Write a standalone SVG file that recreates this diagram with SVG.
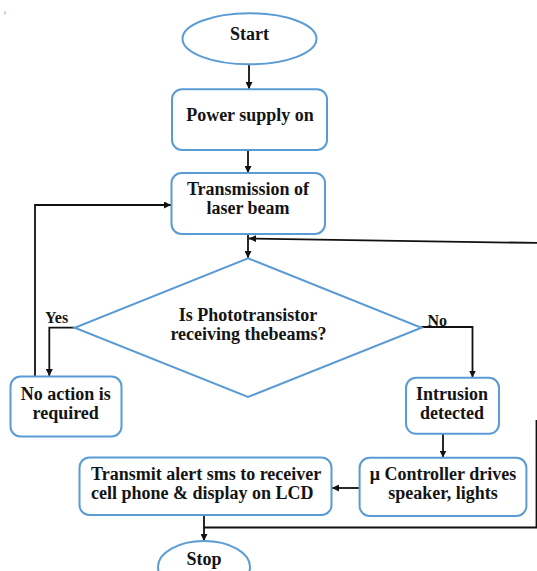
<svg xmlns="http://www.w3.org/2000/svg" width="537" height="571" viewBox="0 0 537 571">
<style>
  .box { fill: #ffffff; stroke: #5b9bd5; stroke-width: 2; }
  .t { font-family: "Liberation Serif", "Times New Roman", serif; font-weight: bold; font-size: 18px; fill: #141414; text-anchor: middle; }
  .lbl { font-family: "Liberation Serif", "Times New Roman", serif; font-weight: bold; font-size: 16px; fill: #141414; }
  .c { fill: none; stroke: #111111; stroke-width: 1.8; }
</style>
<defs>
  <marker id="ah" markerUnits="userSpaceOnUse" markerWidth="8" markerHeight="7" refX="7" refY="3.5" orient="auto">
    <path d="M0,0 L7,3.5 L0,7 z" fill="#111111"/>
  </marker>
</defs>
<rect width="537" height="571" fill="#ffffff"/>
<line x1="5" y1="11.5" x2="5" y2="14.5" stroke="#8aa0b8" stroke-width="1"/>

<g id="connectors">
  <path class="c" d="M249,64.5 V89" marker-end="url(#ah)"/>
  <path class="c" d="M248,150 V173" marker-end="url(#ah)"/>
  <path class="c" d="M248,234 V258" marker-end="url(#ah)"/>
  <path class="c" d="M204,527.5 H539 V243 L249,238.5" marker-end="url(#ah)"/>
  <path class="c" d="M536.5,420 V527.5" stroke-width="1.2"/>
  <path class="c" d="M75,327.7 H49.3 V376" marker-end="url(#ah)"/>
  <path class="c" d="M421.5,327 H472.5 V377.5" stroke-width="2.4" marker-end="url(#ah)"/>
  <path class="c" d="M35,376 V205 H171" marker-end="url(#ah)"/>
  <path class="c" d="M443,434 V457.5" marker-end="url(#ah)"/>
  <path class="c" d="M359.6,488 H332" marker-end="url(#ah)"/>
  <path class="c" d="M204,516 V541" marker-end="url(#ah)"/>
</g>

<g id="start">
  <ellipse class="box" cx="249.5" cy="38.8" rx="67" ry="25.5"/>
  <text class="t" x="249.5" y="39.5">Start</text>
</g>
<g id="power">
  <rect class="box" x="172" y="89.3" width="155" height="60.7" rx="10"/>
  <text class="t" x="250" y="121">Power supply on</text>
</g>
<g id="transmission">
  <rect class="box" x="171.5" y="173" width="153.5" height="61" rx="10"/>
  <text class="t" x="248" y="195">Transmission of</text>
  <text class="t" x="248" y="214">laser beam</text>
</g>
<g id="decision">
  <polygon class="box" points="248,258.3 421.5,327.7 248,397 74.7,327.7"/>
  <text class="t" x="248" y="320.5">Is Phototransistor</text>
  <text class="t" x="248.5" y="339.5">receiving thebeams?</text>
</g>
<g id="yes-label">
  <text class="lbl" x="45" y="323.3">Yes</text>
</g>
<g id="no-label">
  <text class="lbl" x="427.5" y="326">No</text>
</g>
<g id="no-action">
  <rect class="box" x="10.5" y="376.5" width="111" height="60" rx="10"/>
  <text class="t" x="65.7" y="399.5">No action is</text>
  <text class="t" x="65.7" y="418.5">required</text>
</g>
<g id="intrusion">
  <rect class="box" x="406" y="377.8" width="93" height="56" rx="10"/>
  <text class="t" x="452" y="400">Intrusion</text>
  <text class="t" x="452" y="419.3">detected</text>
</g>
<g id="controller">
  <rect class="box" x="359.6" y="457.8" width="166.8" height="58.2" rx="10"/>
  <text class="t" x="443" y="480">μ Controller drives</text>
  <text class="t" x="443" y="499.3">speaker, lights</text>
</g>
<g id="transmit">
  <rect class="box" x="79.5" y="457.5" width="252" height="57.5" rx="10"/>
  <text class="t" x="91" y="480" style="text-anchor:start">Transmit alert sms to receiver</text>
  <text class="t" x="91" y="499.3" style="text-anchor:start">cell phone &amp; display on LCD</text>
</g>
<g id="stop">
  <ellipse class="box" cx="204" cy="567" rx="46" ry="26"/>
  <text class="t" x="204" y="565">Stop</text>
</g>
</svg>
